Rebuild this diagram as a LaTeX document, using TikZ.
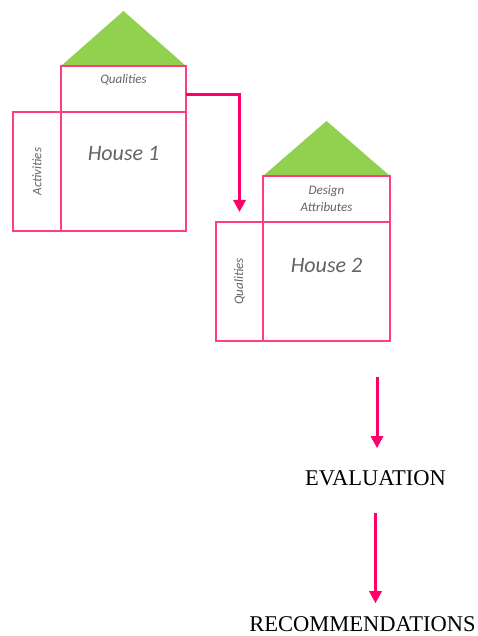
\documentclass[tikz,border=0pt]{standalone}
\usepackage{fontspec}
\setmainfont{Liberation Serif}
\newfontfamily\calib{Carlito}
\usetikzlibrary{positioning,arrows.meta,backgrounds}
\definecolor{housepink}{HTML}{FF3D85}
\definecolor{flowpink}{HTML}{FF0066}
\definecolor{roofgreen}{HTML}{92D050}
\definecolor{labelgray}{HTML}{636363}

\begin{document}
\begin{tikzpicture}[x=1pt,y=-1pt,
	cell/.style={draw=housepink,line width=1.4pt,outer sep=0pt,inner sep=0pt},
	roof/.style={fill=roofgreen},
	tag/.style={font=\calib\itshape\fontsize{13}{17}\selectfont,text=labelgray,align=center},
	title/.style={font=\calib\itshape\fontsize{22}{26}\selectfont,text=labelgray},
	flow/.style={draw=flowpink,line width=3pt,-{Triangle[width=12pt,length=12pt]}},
	stage/.style={font=\fontsize{22.5}{25}\selectfont,text=black,inner sep=1pt}]
	\useasboundingbox (0,0) rectangle (478,636);
	
	% first house
	\node[cell,minimum width=125pt,minimum height=119pt] (h1) at (123.5,171.5) {};
	\node[cell,minimum width=48pt,minimum height=119pt,left=0pt of h1] (a1) {};
	\node[cell,minimum width=125pt,minimum height=46pt,above=0pt of h1] (q1) {};
	\node[title] (t1) at ([yshift=-42pt]h1.north) {House 1};
	\node[tag,rotate=90] (l1) at (a1) {Activities};
	\node[tag] (r1) at ([yshift=-14pt]q1.north) {Qualities};
	
	% second house
	\node[cell,minimum width=127pt,minimum height=119pt] (h2) at (326.5,281.5) {};
	\node[cell,minimum width=47pt,minimum height=119pt,left=0pt of h2] (a2) {};
	\node[cell,minimum width=127pt,minimum height=46pt,above=0pt of h2] (q2) {};
	\node[title] (t2) at ([yshift=-43pt]h2.north) {House 2};
	\node[tag,rotate=90] (l2) at (a2) {Qualities};
	\node[tag] (r2) at ([yshift=-22.5pt]q2.north) {Design\\Attributes};
	
	\begin{scope}[on background layer]
		\fill[roof] (q1.north west) -- (q1.north east) -- ([yshift=55pt]q1.north) -- cycle;
		\fill[roof] (q2.north west) -- (q2.north east) -- ([yshift=55pt]q2.north) -- cycle;
	\end{scope}
	
	% results
	\coordinate (e0) at (377,377);
	\node[stage] (eval) at (375.5,478) {EVALUATION};
	\node[stage] (rec) at (362.5,624) {RECOMMENDATIONS};
	
	\draw[flow] ([yshift=-6pt]q1.east) -| ([yshift=10pt]a2.north);
	\draw[flow,shorten >=21pt] (e0) -- (e0 |- eval.north);
	\draw[flow,shorten <=26pt,shorten >=12pt] (eval.south) -- (eval.south |- rec.north);
\end{tikzpicture}
\end{document}
